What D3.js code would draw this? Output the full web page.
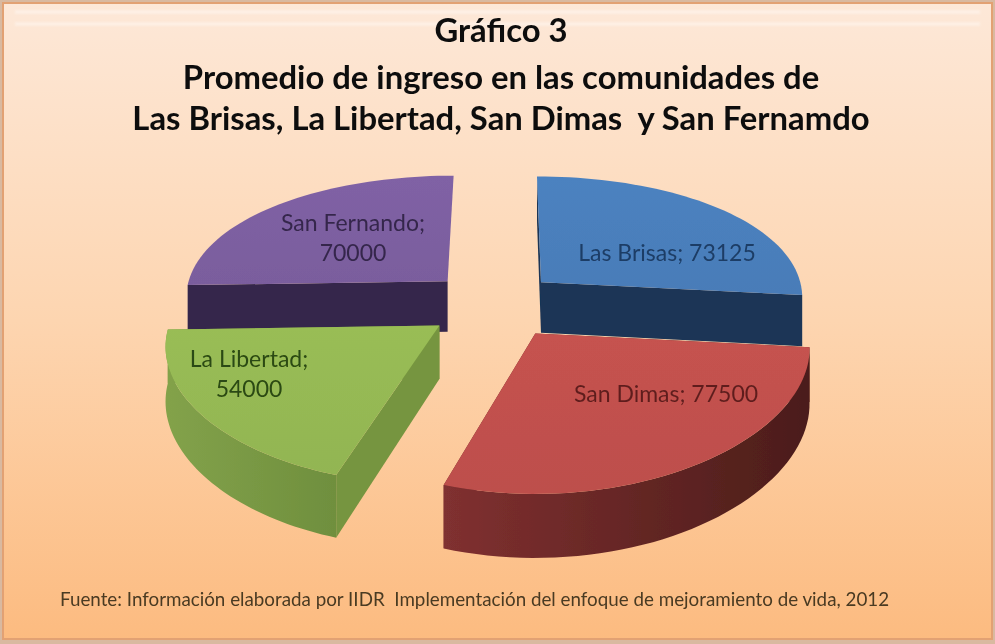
<!DOCTYPE html>
<html lang="es">
<head>
<meta charset="utf-8">
<script src="https://cdn.jsdelivr.net/npm/d3@7"></script>
<style>
html,body{margin:0;padding:0;background:#fff}
svg{display:block}
text{font-family:Lato,"Open Sans",sans-serif}
</style>
</head>
<body>
<svg id="chart" width="995" height="644"></svg>
<script>
const categories = ["Las Brisas", "San Dimas", "La Libertad", "San Fernando"];
const values = [73125, 77500, 54000, 70000];
const titleLines = ["Gráfico 3", "Promedio de ingreso en las comunidades de", "Las Brisas, La Libertad, San Dimas  y San Fernamdo"];
const sourceNote = "Fuente: Información elaborada por IIDR  Implementación del enfoque de mejoramiento de vida, 2012";
const labelLines = [["Las Brisas; 73125"], ["San Dimas; 77500"], ["La Libertad;", "54000"], ["San Fernando;", "70000"]];
const topColors = ["#4a7ebb", "#c0504d", "#95b853", "#7c5fa0"];
const radialColors = ["#1a3556", "#6b2523", "#76953f", "#35264c"];
const wallLeft = ["#1a3556", "#803030", "#83a24a", "#35264c"];
const wallRight = ["#1a3556", "#4b1d1a", "#6f8f3e", "#35264c"];
const labelColors = ["#1d3d66", "#5f1f1e", "#2c4a12", "#35264c"];

const W = 995, H = 644;
const svg = d3.select("#chart");
const defs = svg.append("defs");

// background
const bg = defs.append("linearGradient").attr("id", "bg").attr("x1", 0).attr("y1", 0).attr("x2", 0).attr("y2", 1);
bg.append("stop").attr("offset", 0).attr("stop-color", "#fde8d8");
bg.append("stop").attr("offset", 0.5).attr("stop-color", "#fdd5b0");
bg.append("stop").attr("offset", 1).attr("stop-color", "#fcbb80");
defs.append("filter").attr("id", "soft").append("feGaussianBlur").attr("stdDeviation", 0.55);
defs.append("filter").attr("id", "softText").append("feGaussianBlur").attr("stdDeviation", 0.7);
defs.append("filter").attr("id", "softer").append("feGaussianBlur").attr("stdDeviation", 0.8);

svg.append("rect").attr("width", W).attr("height", H).attr("fill", "#d9b9a0");
svg.append("rect").attr("x", 3).attr("y", 3).attr("width", W - 6).attr("height", H - 8)
  .attr("fill", "url(#bg)").attr("stroke", "#e2a173").attr("stroke-width", 2);
[10, 22].forEach(y => svg.append("rect").attr("x", 15).attr("y", y).attr("width", W - 30).attr("height", 4)
  .attr("fill", "#fff").attr("opacity", 0.35).attr("filter", "url(#softer)"));

// exploded 3-D pie: angles come from d3.pie, the projection below only places them
const arcs = d3.pie().sort(null)(values);
const cx = 492, cy = 305, explodeX = 66, explodeY = 34;
const R = 265, Ry = 127, kx = 0.11, ky = 0.167, kd = 0.15, D = 52, vBias = 0.3;
const nudgeX = [0, 7, 0, 3];
const lean = [4, 0, -13, -6];

function slice(arc, i) {
  const mid = (arc.startAngle + arc.endAngle) / 2;
  const dirU = Math.sin(mid), dirV = -Math.cos(mid);
  const ax = cx + explodeX * dirU + nudgeX[i], ay = cy + explodeY * dirV;
  const project = (a, r) => {
    const u = r * Math.sin(a), v = -r * Math.cos(a);
    const vt = v + vBias * dirV;
    return [ax + R * u / (1 - kx * vt) + lean[i] * v, ay + Ry * v / (1 - ky * vt)];
  };
  const depth = (a, r) => {
    const vt = -r * Math.cos(a) + vBias * dirV;
    return D / (1 - kd * vt);
  };
  const n = 48;
  const angles = d3.range(n + 1).map(k => arc.startAngle + (arc.endAngle - arc.startAngle) * k / n);
  const rim = angles.map(a => project(a, 1));
  const rimLow = angles.map(a => { const p = project(a, 1); return [p[0], p[1] + depth(a, 1)]; });
  const apex = project(0, 0);
  const apexLow = [apex[0], apex[1] + depth(0, 0)];
  return {rim, rimLow, apex, apexLow};
}

const line = d3.line();
const pieLayer = svg.append("g").attr("filter", "url(#soft)");
const drawOrder = [3, 0, 2, 1];

drawOrder.forEach(i => {
  const s = slice(arcs[i], i);
  const g = pieLayer.append("g").attr("class", "slice").datum(arcs[i]);

  const gradId = "wall" + i;
  const xs = d3.extent(s.rim, p => p[0]);
  const wg = defs.append("linearGradient").attr("id", gradId).attr("gradientUnits", "userSpaceOnUse")
    .attr("x1", xs[0]).attr("x2", xs[1]).attr("y1", 0).attr("y2", 0);
  wg.append("stop").attr("offset", 0).attr("stop-color", wallLeft[i]);
  wg.append("stop").attr("offset", 1).attr("stop-color", wallRight[i]);

  // radial walls at the cuts; the outer wall only on the two front slices, where it faces the viewer
  const first = [s.apex, s.rim[0], s.rimLow[0], s.apexLow];
  const last = [s.apex, s.rim[s.rim.length - 1], s.rimLow[s.rimLow.length - 1], s.apexLow];
  const outer = s.rim.concat(s.rimLow.slice().reverse());
  const walls = [{pts: first, fill: radialColors[i]}];
  if (i === 1 || i === 2) walls.push({pts: outer, fill: "url(#" + gradId + ")"});
  if (i !== 3) walls.push({pts: last, fill: radialColors[i]});
  walls.sort((a, b) => d3.mean(a.pts, p => p[1]) - d3.mean(b.pts, p => p[1]));
  walls.forEach(w => g.append("path").attr("d", line(w.pts) + "Z").attr("fill", w.fill));

  const tg = defs.append("linearGradient").attr("id", "top" + i).attr("x1", 0).attr("y1", 0).attr("x2", 0).attr("y2", 1);
  tg.append("stop").attr("offset", 0).attr("stop-color", d3.color(topColors[i]).brighter(0.08));
  tg.append("stop").attr("offset", 1).attr("stop-color", d3.color(topColors[i]).darker(0.05));
  g.append("path").attr("d", line([s.apex].concat(s.rim)) + "Z").attr("fill", "url(#top" + i + ")");
});

// text
const textLayer = svg.append("g").attr("filter", "url(#softText)");
const titleBase = [42, 89, 130];
titleLines.forEach((t, i) => textLayer.append("text")
  .attr("x", 501).attr("y", titleBase[i]).attr("text-anchor", "middle")
  .attr("font-size", 32.8).attr("font-weight", 700).attr("fill", "#111")
  .style("white-space", "pre").text(t));

const labelAnchor = [[667, 261], [666, 402], [249, 367], [353, 231]];
const labelStep = 30;
labelLines.forEach((lines, i) => lines.forEach((t, j) => textLayer.append("text")
  .attr("x", labelAnchor[i][0]).attr("y", labelAnchor[i][1] + j * labelStep)
  .attr("text-anchor", "middle").attr("font-size", 23).attr("fill", labelColors[i]).text(t)));

textLayer.append("text").attr("x", 60).attr("y", 606).attr("font-size", 18.8).attr("fill", "#4a3a22")
  .style("white-space", "pre").text(sourceNote);
</script>
</body>
</html>
